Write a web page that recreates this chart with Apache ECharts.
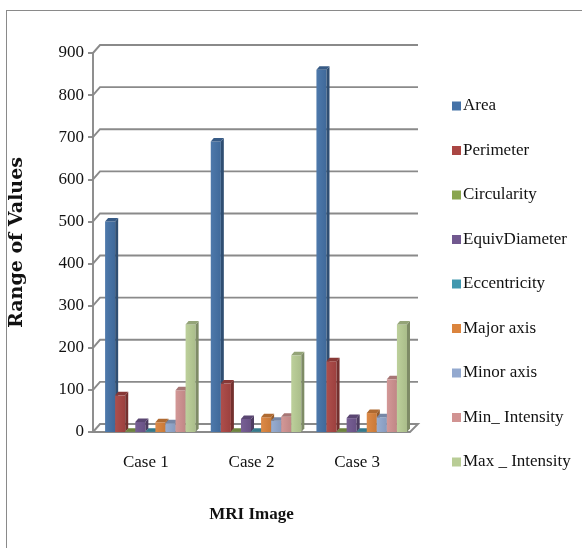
<!DOCTYPE html>
<html>
<head>
<meta charset="utf-8">
<script src="https://cdn.jsdelivr.net/npm/echarts@6/dist/echarts.min.js"></script>
<style>
  html, body { margin: 0; padding: 0; background: #fff; }
  #frame { position: absolute; left: 6px; top: 10px; width: 580px; height: 540px;
           border-left: 1.5px solid #8a8a8a; border-top: 1.5px solid #8a8a8a; }
  #chart { position: absolute; left: 0; top: 0; width: 582px; height: 548px; }
</style>
</head>
<body>
<div id="frame"></div>
<div id="chart"></div>
<script>
// MRI shape / intensity features per case
const categories = ['Case 1', 'Case 2', 'Case 3'];
const seriesNames = ['Area', 'Perimeter', 'Circularity', 'EquivDiameter', 'Eccentricity',
                     'Major axis', 'Minor axis', 'Min_ Intensity', 'Max _ Intensity'];
const area          = [500, 690, 860];
const perimeter     = [87, 115, 168];
const circularity   = [0.8, 0.8, 0.8];
const equivDiameter = [24, 31, 33];
const eccentricity  = [0.8, 0.7, 0.7];
const majorAxis     = [23, 35, 45];
const minorAxis     = [21, 27, 35];
const minIntensity  = [99, 36, 125];
const maxIntensity  = [255, 182, 255];
const yTicks = [0, 100, 200, 300, 400, 500, 600, 700, 800, 900];

const seriesValues = [area, perimeter, circularity, equivDiameter, eccentricity,
                      majorAxis, minorAxis, minIntensity, maxIntensity];
const colors = ['#4572A7', '#AA4643', '#89A54E', '#71588F', '#4198AF',
                '#DB843D', '#93A9CF', '#D19392', '#B9CD96'];

const FONT = "'Liberation Serif', 'DejaVu Serif', serif";
const DEPTH_X = 3, DEPTH_Y = 3.5;      // small extrusion of each column
const WALL_X = 7, WALL_Y = 8;          // offset of the back wall

function shade(hex, f) {
  const n = parseInt(hex.slice(1), 16);
  let r = (n >> 16) & 255, g = (n >> 8) & 255, b = n & 255;
  if (f < 1) { r *= f; g *= f; b *= f; }
  else { r += (255 - r) * (f - 1); g += (255 - g) * (f - 1); b += (255 - b) * (f - 1); }
  return 'rgb(' + Math.round(r) + ',' + Math.round(g) + ',' + Math.round(b) + ')';
}

function columnRenderer(sIdx) {
  const c = colors[sIdx];
  return function (params, api) {
    const cat = api.value(0), val = api.value(1);
    const base = api.coord([cat, 0]);
    const top = api.coord([cat, val]);
    const band = api.size([1, 0])[0];
    const groupW = band * 0.857;
    const step = groupW / seriesNames.length;
    const x0 = base[0] - groupW / 2 + band * 0.043 + sIdx * step;
    const x1 = x0 + step;
    const yt = top[1], yb = base[1];
    return {
      type: 'group',
      children: [
        { type: 'rect', shape: { x: x0, y: yt, width: step, height: yb - yt },
          style: { fill: { type: 'linear', x: 0, y: 0, x2: 1, y2: 0,
                   colorStops: [{ offset: 0, color: shade(c, 1.05) }, { offset: 1, color: shade(c, 0.92) }] } } },
        { type: 'polygon', shape: { points: [[x1, yt], [x1 + DEPTH_X, yt - DEPTH_Y], [x1 + DEPTH_X, yb - DEPTH_Y], [x1, yb]] },
          style: { fill: shade(c, 0.68) } },
        { type: 'polygon', shape: { points: [[x0, yt], [x0 + DEPTH_X, yt - DEPTH_Y], [x1 + DEPTH_X, yt - DEPTH_Y], [x1, yt]] },
          style: { fill: shade(c, 0.8) } }
      ]
    };
  };
}

// back wall gridlines, their slanted joints to the front axis, and the floor
function wallRenderer(params, api) {
  const v = api.value(0);
  const y = api.coord([0, v])[1];
  const cs = params.coordSys;
  const x = cs.x, w = cs.width;
  const stroke = { stroke: '#8a8a8a', lineWidth: 1.9, fill: null };
  if (v === 0) {
    return { type: 'polygon', z2: -1,
      shape: { points: [[x, y], [x + WALL_X, y - WALL_Y], [x + w + WALL_X + 1, y - WALL_Y], [x + w, y]] },
      style: stroke };
  }
  return { type: 'polyline',
    shape: { points: [[x, y], [x + WALL_X, y - WALL_Y], [x + w + WALL_X + 1, y - WALL_Y]] },
    style: stroke };
}

const series = [{
  type: 'custom', name: '__wall', silent: true, z: 1,
  renderItem: wallRenderer,
  encode: { y: 0 },
  data: yTicks.map(v => [v])
}];
seriesNames.forEach((name, i) => {
  series.push({
    type: 'custom', name: name, z: 2,
    itemStyle: { color: colors[i] },
    renderItem: columnRenderer(i),
    encode: { x: 0, y: 1 },
    data: seriesValues[i].map((v, k) => [k, v])
  });
});

const chart = echarts.init(document.getElementById('chart'), null, { renderer: 'canvas' });
chart.setOption({
  animation: false,
  backgroundColor: 'transparent',
  grid: { left: 93, right: 172, top: 53, bottom: 116 },
  xAxis: {
    type: 'category', data: categories,
    name: 'MRI Image', nameLocation: 'middle', nameGap: 74,
    nameTextStyle: { fontFamily: FONT, fontSize: 17, fontWeight: 'bold', color: '#111' },
    axisLine: { show: false }, axisTick: { show: false },
    axisLabel: { margin: 22, fontFamily: FONT, fontSize: 17, color: '#111' }
  },
  yAxis: {
    type: 'value', min: 0, max: 900, interval: 100,
    name: 'Range of Values', nameLocation: 'middle', nameGap: 66, nameRotate: 90,
    nameTextStyle: { fontFamily: "'DejaVu Serif', serif", fontSize: 19, fontWeight: 'bold', color: '#111' },
    axisLine: { show: true, lineStyle: { color: '#8a8a8a', width: 1.9 } },
    axisTick: { show: true, length: 5, lineStyle: { color: '#8a8a8a', width: 1.9 } },
    splitLine: { show: false },
    axisLabel: { margin: 9, fontFamily: FONT, fontSize: 17, color: '#111' }
  },
  legend: {
    data: seriesNames,
    orient: 'vertical', left: 447, top: 91,
    icon: 'rect', itemWidth: 9, itemHeight: 9, itemGap: 24.5,
    textStyle: { fontFamily: FONT, fontSize: 17, lineHeight: 20, color: '#111', padding: [0, 0, 0, -3] }
  },
  series: series
});
</script>
</body>
</html>
